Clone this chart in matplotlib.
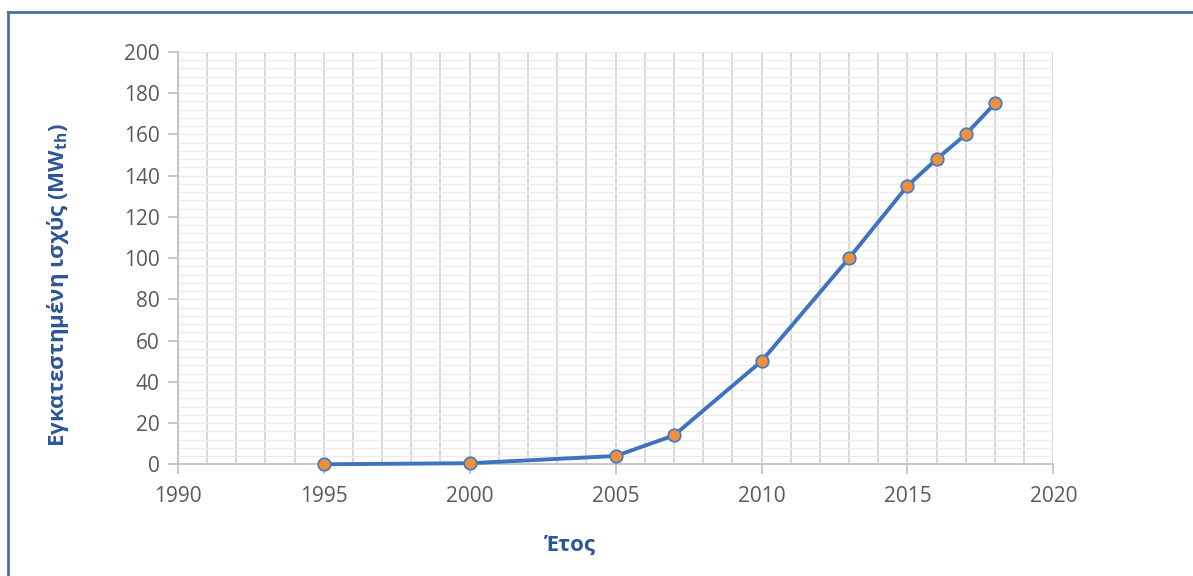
import matplotlib.pyplot as plt
from matplotlib.lines import Line2D
from matplotlib.ticker import MultipleLocator

# Installed thermal capacity per year
years = [1995, 2000, 2005, 2007, 2010, 2013, 2015, 2016, 2017, 2018]
capacity_mwth = [0, 0.5, 4, 14, 50, 100, 135, 148, 160, 175]

x_ticks = [1990, 1995, 2000, 2005, 2010, 2015, 2020]
y_ticks = [0, 20, 40, 60, 80, 100, 120, 140, 160, 180, 200]

plt.rcParams["font.family"] = ["Open Sans", "DejaVu Sans"]

fig = plt.figure(figsize=(11.93, 5.76), dpi=100)
ax = fig.add_axes([0.149, 0.194, 0.734, 0.716])

ax.plot(
    years, capacity_mwth,
    color="#3F72BF", linewidth=2.8,
    marker="o", markersize=9,
    markerfacecolor="#F0913A", markeredgecolor="#4A7BC4", markeredgewidth=1.3,
    zorder=3, clip_on=False,
)

ax.set_xlim(1990, 2020)
ax.set_ylim(0, 200)
ax.set_xticks(x_ticks)
ax.set_yticks(y_ticks)
ax.xaxis.set_minor_locator(MultipleLocator(1))
ax.yaxis.set_minor_locator(MultipleLocator(4))

# grid: every year vertically, every 4 units horizontally
ax.grid(which="both", axis="x", color="#D6D6D6", linewidth=1.3)
ax.grid(which="both", axis="y", color="#EBEBEB", linewidth=1.0)
ax.set_axisbelow(True)

for side in ["top", "right"]:
    ax.spines[side].set_visible(False)
for side in ["left", "bottom"]:
    ax.spines[side].set_color("#BFBFBF")
    ax.spines[side].set_linewidth(1.2)

ax.tick_params(which="major", length=7, width=1.2, color="#BFBFBF",
               labelsize=15, labelcolor="#595959", pad=6)
ax.tick_params(which="minor", length=0)
ax.tick_params(axis="x", pad=9)

ax.set_ylabel("Εγκατεστημένη ισχύς (MW$_{\\mathregular{th}}$)",
              fontsize=16, fontweight="bold", color="#2F5597")
ax.yaxis.set_label_coords(-0.122, 0.435)

# axis title for years sits left of the axes centre
fig.text(570 / 1193, 1 - 545 / 576, "Έτος", fontsize=16, fontweight="bold",
         color="#2F5597", ha="center", va="center")

# outer frame lines (top and left)
fig.add_artist(Line2D([8 / 1193, 1.0], [1 - 12 / 576, 1 - 12 / 576],
                      transform=fig.transFigure, color="#4A6FA5", linewidth=2))
fig.add_artist(Line2D([8 / 1193, 8 / 1193], [0.0, 1 - 12 / 576],
                      transform=fig.transFigure, color="#4A6FA5", linewidth=2))

fig.savefig("out.png", dpi=100)
